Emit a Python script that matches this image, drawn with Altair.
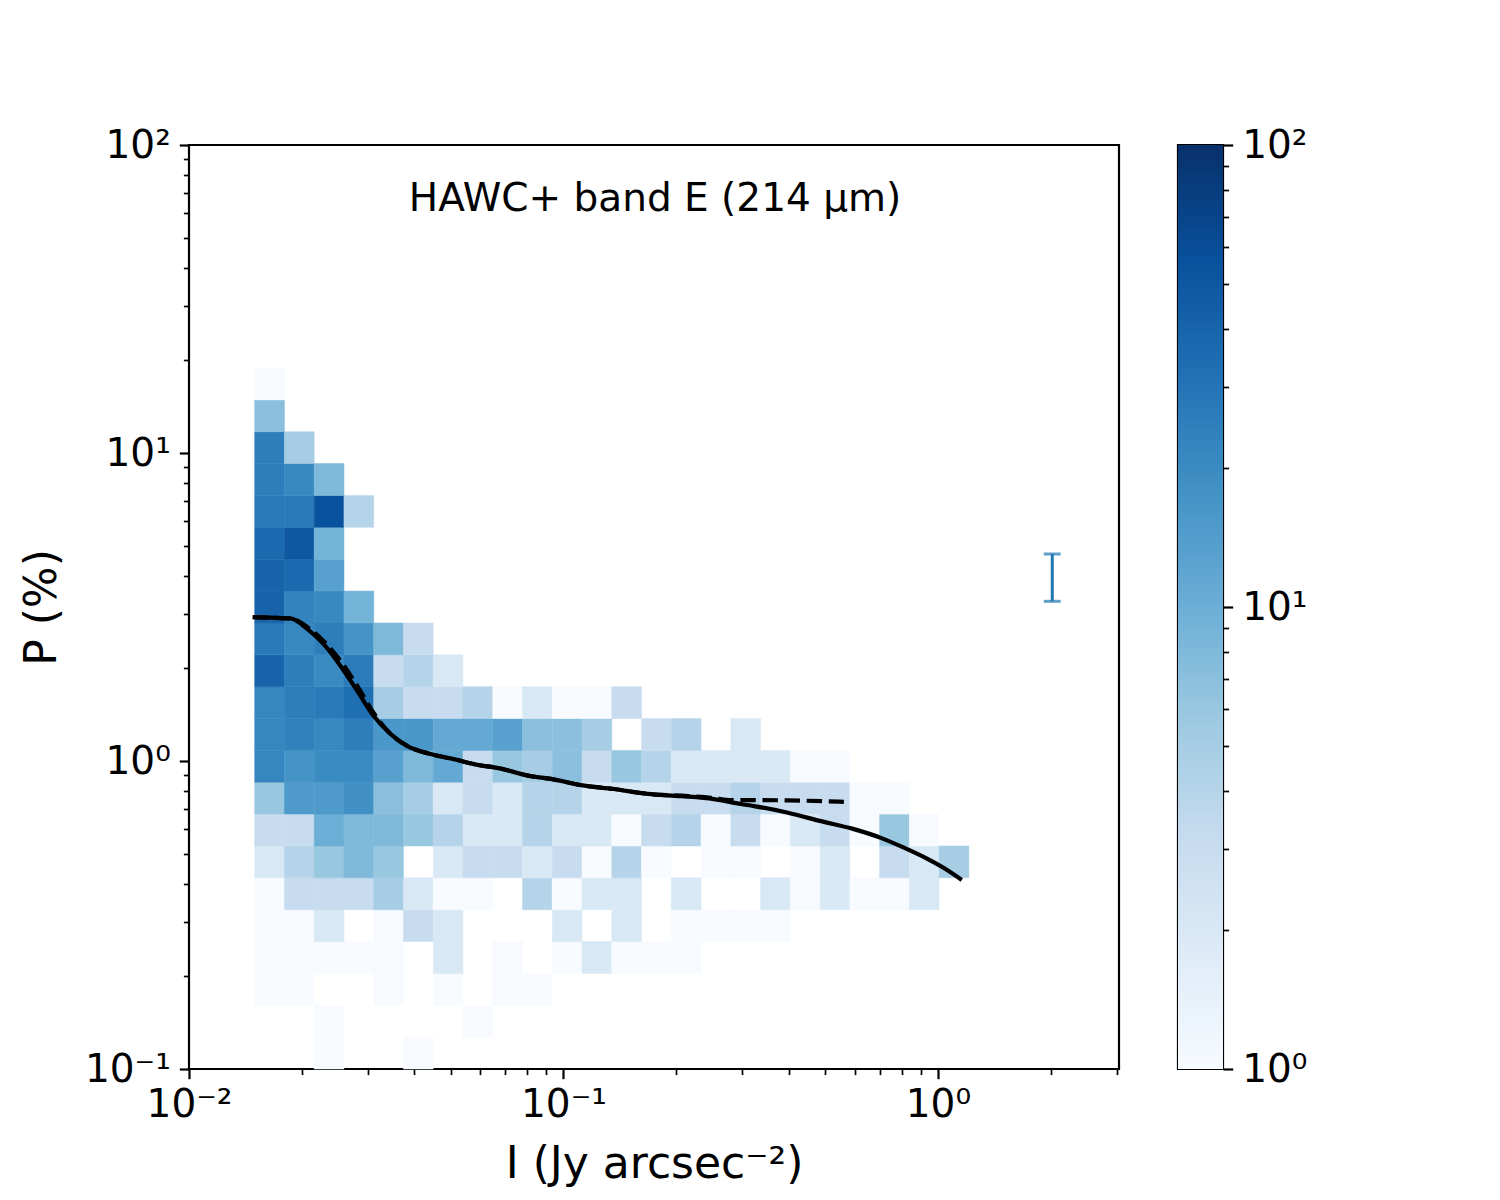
import altair as alt
import pandas as pd

# ---- 2D histogram (log-spaced bins) ----
X_LOG0 = -1.8246      # log10 of first I bin edge
X_DLOG = 0.07947      # I bin width in dex
Y_LOG0 = -1.0         # log10 of first P bin edge
Y_DLOG = 3.0 / 29     # P bin width in dex

# counts per cell; row 0 = lowest P bin, column 0 = lowest I bin
COUNTS = [
    [0, 0, 1, 0, 0, 1],
    [0, 0, 1, 0, 0, 0, 0, 1],
    [1, 1, 0, 0, 1, 0, 1, 0, 1, 1],
    [1, 1, 1, 1, 1, 0, 2, 0, 1, 0, 1, 2, 1, 1, 1],
    [1, 1, 2, 0, 1, 3, 2, 0, 0, 0, 2, 0, 2, 0, 1, 1, 1, 1],
    [1, 3, 3, 3, 5, 2, 1, 1, 0, 4, 1, 2, 2, 0, 2, 0, 0, 2, 1, 2, 1, 1, 2],
    [2, 4, 6, 8, 6, 0, 2, 3, 3, 2, 3, 1, 4, 1, 0, 1, 1, 0, 1, 2, 0, 3, 2, 5],
    [3, 3, 10, 8, 8, 6, 4, 2, 2, 4, 2, 2, 1, 3, 4, 1, 3, 1, 2, 3, 1, 6, 1],
    [6, 15, 15, 18, 7, 5, 2, 3, 2, 4, 4, 2, 2, 2, 3, 3, 4, 3, 3, 3, 1, 1],
    [22, 17, 20, 20, 13, 8, 11, 3, 6, 5, 7, 3, 6, 4, 2, 2, 2, 2, 1, 1],
    [22, 24, 21, 25, 16, 16, 11, 11, 13, 7, 7, 5, 0, 3, 4, 0, 2],
    [22, 25, 27, 33, 5, 3, 3, 4, 1, 2, 1, 1, 3],
    [40, 25, 20, 26, 3, 4, 2],
    [27, 21, 25, 17, 8, 3],
    [40, 23, 21, 9],
    [40, 36, 13],
    [36, 50, 9],
    [27, 27, 55, 4],
    [25, 21, 8],
    [25, 5],
    [7],
    [1],
]

# ---- running curves ----
SOLID_I = [0.0148, 0.01653, 0.01869, 0.02072, 0.0229, 0.02542, 0.02817, 0.03114,
           0.03457, 0.03832, 0.04422, 0.05094, 0.05761, 0.06801, 0.08177, 0.09252,
           0.1113, 0.1363, 0.168, 0.2058, 0.2522, 0.2977, 0.3226, 0.3975, 0.487,
           0.5964, 0.704, 0.8113, 0.9404, 1.0634, 1.158]
SOLID_P = [2.931, 2.92, 2.903, 2.68, 2.396, 2.032, 1.686, 1.399,
           1.223, 1.118, 1.053, 1.014, 0.977, 0.945, 0.893, 0.875,
           0.835, 0.811, 0.782, 0.769, 0.752, 0.725, 0.714, 0.679, 0.638,
           0.601, 0.563, 0.523, 0.480, 0.441, 0.411]
DASHED_I = [0.0148, 0.01653, 0.01869, 0.02072, 0.0229, 0.02542, 0.02817, 0.03114,
            0.03457, 0.03832, 0.04422, 0.05094, 0.05761, 0.06801, 0.08177, 0.09252,
            0.1113, 0.1363, 0.168, 0.2149, 0.2522, 0.2799, 0.3226, 0.3975, 0.561]
DASHED_P = [2.931, 2.92, 2.903, 2.72, 2.45, 2.11, 1.75, 1.431,
            1.223, 1.118, 1.053, 1.014, 0.977, 0.945, 0.893, 0.875,
            0.835, 0.811, 0.782, 0.769, 0.758, 0.7466, 0.7466, 0.745, 0.737]

# ---- representative error bar ----
ERR_I = [2.02]
ERR_LO = [3.3]
ERR_HI = [4.7]

TITLE = "HAWC+ band E (214 μm)"
X_TITLE = "I (Jy arcsec⁻²)"
Y_TITLE = "P (%)"

X_TICKS = [0.01, 0.02, 0.03, 0.04, 0.05, 0.06, 0.07, 0.08, 0.09,
           0.1, 0.2, 0.3, 0.4, 0.5, 0.6, 0.7, 0.8, 0.9, 1, 2, 3]
Y_TICKS = [0.1, 0.2, 0.3, 0.4, 0.5, 0.6, 0.7, 0.8, 0.9,
           1, 2, 3, 4, 5, 6, 7, 8, 9,
           10, 20, 30, 40, 50, 60, 70, 80, 90, 100]
CB_TICKS = [1, 2, 3, 4, 5, 6, 7, 8, 9, 10, 20, 30, 40, 50, 60, 70, 80, 90, 100]

BLUES = ["#f7fbff", "#deebf7", "#c6dbef", "#9ecae1", "#6baed6",
         "#4292c6", "#2171b5", "#08519c", "#08306b"]
COLOR_STOPS = [1, 1.7783, 3.1623, 5.6234, 10, 17.783, 31.623, 56.234, 100]

FONT = "DejaVu Sans"

# ---- build tables ----
cells = []
for r, row in enumerate(COUNTS):
    for c, n in enumerate(row):
        if n > 0:
            cells.append({
                "I": 10 ** (X_LOG0 + c * X_DLOG),
                "I2": 10 ** (X_LOG0 + (c + 1) * X_DLOG),
                "P": 10 ** (Y_LOG0 + r * Y_DLOG),
                "P2": 10 ** (Y_LOG0 + (r + 1) * Y_DLOG),
                "n": n,
            })
cells_df = pd.DataFrame(cells)
solid_df = pd.DataFrame({"I": SOLID_I, "P": SOLID_P})
dashed_df = pd.DataFrame({"I": DASHED_I, "P": DASHED_P})
err_df = pd.DataFrame({"I": ERR_I, "P": ERR_LO, "P2": ERR_HI})
title_df = pd.DataFrame({"t": [TITLE]})
cb_df = pd.DataFrame({"lo": [1], "hi": [100]})

xs = alt.Scale(type="log", domain=[0.01, 3.045], nice=False)
ys = alt.Scale(type="log", domain=[0.1, 100], nice=False)
cs = alt.Scale(type="log", domain=COLOR_STOPS, range=BLUES, interpolate="rgb")


def major_test(vals):
    return " || ".join(f"datum.value == {v}" for v in vals)


def tick_axis(values, majors, labels, **kw):
    expr = "".join(f"datum.value == {v} ? '{l}' : " for v, l in zip(majors, labels)) + "''"
    test = major_test(majors)
    return alt.Axis(
        values=values,
        labelExpr=expr,
        tickSize={"condition": {"test": test, "value": 9.7}, "value": 5.6},
        tickWidth={"condition": {"test": test, "value": 2.2}, "value": 1.7},
        tickColor="black",
        domain=False,
        grid=False,
        labelOverlap=False,
        labelFlush=False,
        labelBound=False,
        labelFont=FONT,
        labelFontSize=39,
        labelColor="black",
        titleFont=FONT,
        titleFontSize=44,
        titleFontWeight="normal",
        titleColor="black",
        **kw,
    )


x_axis = tick_axis(X_TICKS, [0.01, 0.1, 1], ["10⁻²", "10⁻¹", "10⁰"],
                   title=X_TITLE, labelPadding=7, titlePadding=18)
y_axis = tick_axis(Y_TICKS, [0.1, 1, 10, 100], ["10⁻¹", "10⁰", "10¹", "10²"],
                   title=Y_TITLE, labelPadding=9, titlePadding=20)
cb_axis = tick_axis(CB_TICKS, [1, 10, 100], ["10⁰", "10¹", "10²"],
                    title=None, orient="right", labelPadding=9)

heat = alt.Chart(cells_df).mark_rect(strokeWidth=0.5).encode(
    x=alt.X("I:Q", scale=xs, axis=x_axis, title=X_TITLE),
    x2="I2:Q",
    y=alt.Y("P:Q", scale=ys, axis=y_axis, title=Y_TITLE),
    y2="P2:Q",
    color=alt.Color("n:Q", scale=cs, legend=None),
    stroke=alt.Stroke("n:Q", scale=cs, legend=None),
)

solid = alt.Chart(solid_df).mark_line(
    color="black", strokeWidth=4.2, interpolate="monotone").encode(
    x=alt.X("I:Q", title=X_TITLE), y=alt.Y("P:Q", title=Y_TITLE))
dashed = alt.Chart(dashed_df).mark_line(
    color="black", strokeWidth=4.2, strokeDash=[15.4, 6.7], interpolate="monotone").encode(
    x=alt.X("I:Q", title=X_TITLE), y=alt.Y("P:Q", title=Y_TITLE))

err = alt.Chart(err_df).mark_errorbar(
    ticks=True, size=17, thickness=3, color="#1f77b4").encode(
    x=alt.X("I:Q", title=X_TITLE), y=alt.Y("P:Q", title=Y_TITLE), y2="P2:Q")

title = alt.Chart(title_df).mark_text(
    font=FONT, fontSize=39, color="black", align="center", baseline="alphabetic"
).encode(text="t:N", x=alt.value(466), y=alt.value(66))

main = alt.layer(heat, dashed, solid, err, title).properties(width=930, height=924)

grad = alt.LinearGradient(
    gradient="linear",
    stops=[alt.GradientStop(color=c, offset=k / 8) for k, c in enumerate(BLUES)],
    x1=0, x2=0, y1=1, y2=0,
)
colorbar = alt.Chart(cb_df).mark_rect(color=grad).encode(
    x=alt.value(0),
    x2=alt.value(45),
    y=alt.Y("lo:Q", scale=alt.Scale(type="log", domain=[1, 100], nice=False), axis=cb_axis),
    y2="hi:Q",
).properties(width=45, height=924)

chart = alt.hconcat(main, colorbar, spacing=55).properties(
    padding={"left": 11, "top": 116, "right": 10, "bottom": 10}
).configure(background="white").configure_view(stroke="black", strokeWidth=2.2)

chart.save("out.html", embed_options={"renderer": "svg", "actions": False})
